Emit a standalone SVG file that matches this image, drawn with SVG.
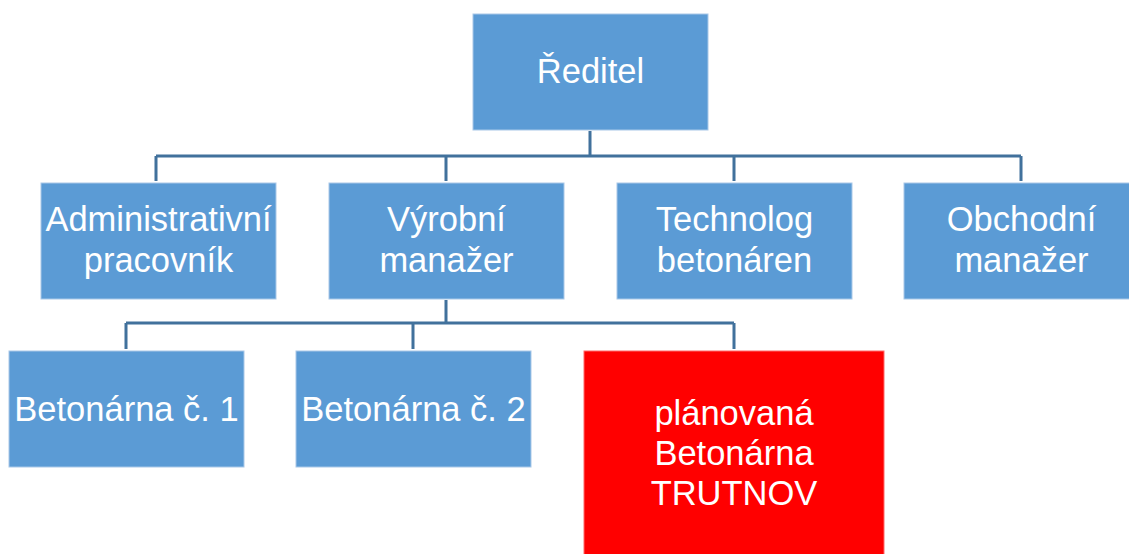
<svg xmlns="http://www.w3.org/2000/svg" width="1129" height="554" viewBox="0 0 1129 554">
<style>
.box{fill:#5B9BD5;stroke:#a9c8e8;stroke-width:1}
.red{fill:#FF0000;stroke:#ff6b6b;stroke-width:1}
.t{font-family:"Liberation Sans",Arial,sans-serif;font-size:34.5px;fill:#ffffff;text-anchor:middle}
.c{fill:none;stroke:#41719C;stroke-width:3}
</style>
<rect width="1129" height="554" fill="#ffffff"/>
<g id="connectors">
<path class="c" d="M590,131 V156 M156,156 H1021 M156,156 V181 M446,156 V181 M734,156 V181 M1021,156 V181"/>
<path class="c" d="M446,300 V323 M126,323 H734 M126,323 V349 M413,323 V349 M734,323 V349"/>
</g>
<g id="reditel"><rect class="box" x="473" y="14" width="235" height="116"/><text class="t" x="590.5" y="83">Ředitel</text></g>
<g id="admin"><rect class="box" x="41" y="183" width="235" height="116"/><text class="t" x="158.5" y="231">Administrativní</text><text class="t" x="158.5" y="272">pracovník</text></g>
<g id="vyrobni"><rect class="box" x="329" y="183" width="235" height="116"/><text class="t" x="446.5" y="231">Výrobní</text><text class="t" x="446.5" y="272">manažer</text></g>
<g id="technolog"><rect class="box" x="617" y="183" width="235" height="116"/><text class="t" x="734.5" y="231">Technolog</text><text class="t" x="734.5" y="272">betonáren</text></g>
<g id="obchodni"><rect class="box" x="904" y="183" width="235" height="116"/><text class="t" x="1021.5" y="231">Obchodní</text><text class="t" x="1021.5" y="272">manažer</text></g>
<g id="beton1"><rect class="box" x="9" y="351" width="235" height="116"/><text class="t" x="126.5" y="421">Betonárna č. 1</text></g>
<g id="beton2"><rect class="box" x="296" y="351" width="235" height="116"/><text class="t" x="413.5" y="421">Betonárna č. 2</text></g>
<g id="trutnov"><rect class="red" x="584" y="351" width="300" height="210"/><text class="t" x="734" y="425">plánovaná</text><text class="t" x="734" y="465">Betonárna</text><text class="t" x="734" y="505">TRUTNOV</text></g>
</svg>
